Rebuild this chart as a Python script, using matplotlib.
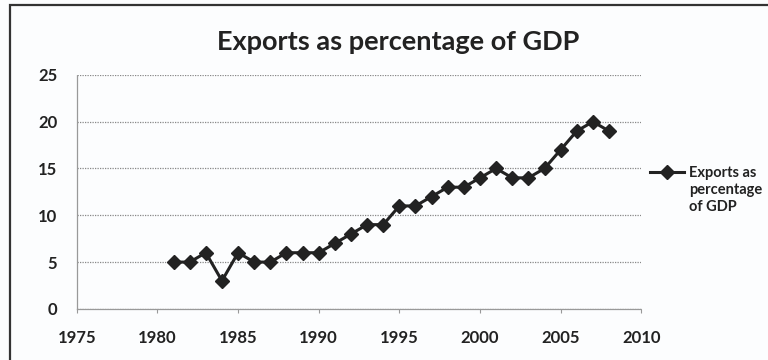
import matplotlib
matplotlib.use("Agg")
import matplotlib.pyplot as plt
from matplotlib.patches import Rectangle

years = list(range(1981, 2009))
exports_pct = [5, 5, 6, 3, 6, 5, 5, 6, 6, 6, 7, 8, 9, 9, 11, 11, 12, 13, 13, 14,
               15, 14, 14, 15, 17, 19, 20, 19]
x_ticks = [1975, 1980, 1985, 1990, 1995, 2000, 2005, 2010]
y_ticks = [0, 5, 10, 15, 20, 25]
series_label_lines = ['Exports as', 'percentage', 'of GDP']

plt.rcParams['font.family'] = ['Lato', 'DejaVu Sans']
TXT = '#222222'

fig = plt.figure(figsize=(7.68, 3.6), dpi=100)
fig.patch.set_facecolor('#fcfdfe')
ax = fig.add_axes([0.100, 0.142, 0.735, 0.650])
ax.set_facecolor('#fcfdfe')

ax.plot(years, exports_pct, color='#222222', lw=2.2, marker='D', ms=7,
        markerfacecolor='#222222', markeredgecolor='#222222',
        label=series_label_lines[0], zorder=3)

ax.set_xlim(1975, 2010)
ax.set_ylim(0, 25)
ax.set_xticks(x_ticks)
ax.set_yticks(y_ticks)
ax.grid(axis='y', color='#888888', linestyle=(0, (1, 1)), lw=0.9)
for s in ['top', 'right']:
    ax.spines[s].set_visible(False)
for s in ['left', 'bottom']:
    ax.spines[s].set_color('#999999')
    ax.spines[s].set_linestyle((0, (1, 1)))
    ax.spines[s].set_linewidth(0.9)
ax.tick_params(axis='both', length=3, color='#999999', labelsize=12,
               labelcolor=TXT)
ax.tick_params(axis='y', length=0, pad=14)
ax.tick_params(axis='x', pad=12)
for lab in ax.get_xticklabels() + ax.get_yticklabels():
    lab.set_fontweight('bold')

fig.text(0.519, 0.861, 'Exports as percentage of GDP', ha='center', va='baseline',
         fontsize=19.5, fontweight='bold', color=TXT)

leg = fig.legend(loc='center left', bbox_to_anchor=(650 / 768, 1 - 173 / 360),
                 frameon=False, fontsize=10.5, handlelength=2.3,
                 handletextpad=0.35, borderaxespad=0, borderpad=0)
for t in leg.get_texts():
    t.set_fontweight('bold')
    t.set_color(TXT)

fig.canvas.draw()
t0 = leg.get_texts()[0]
bx, by = t0.get_transform().transform(t0.get_position())
inv = fig.transFigure.inverted()
for i, line in enumerate(series_label_lines[1:], start=1):
    fx, fy = inv.transform((bx, by - 17 * i))
    fig.text(fx, fy, line, ha='left', va='baseline', fontsize=10.5,
             fontweight='bold', color=TXT)

fig.add_artist(Rectangle((0.013, -0.02), 1.2, 1.006, transform=fig.transFigure,
                         fill=False, edgecolor='#333333', lw=1.6))

fig.savefig('out.png', dpi=100, facecolor=fig.get_facecolor())
